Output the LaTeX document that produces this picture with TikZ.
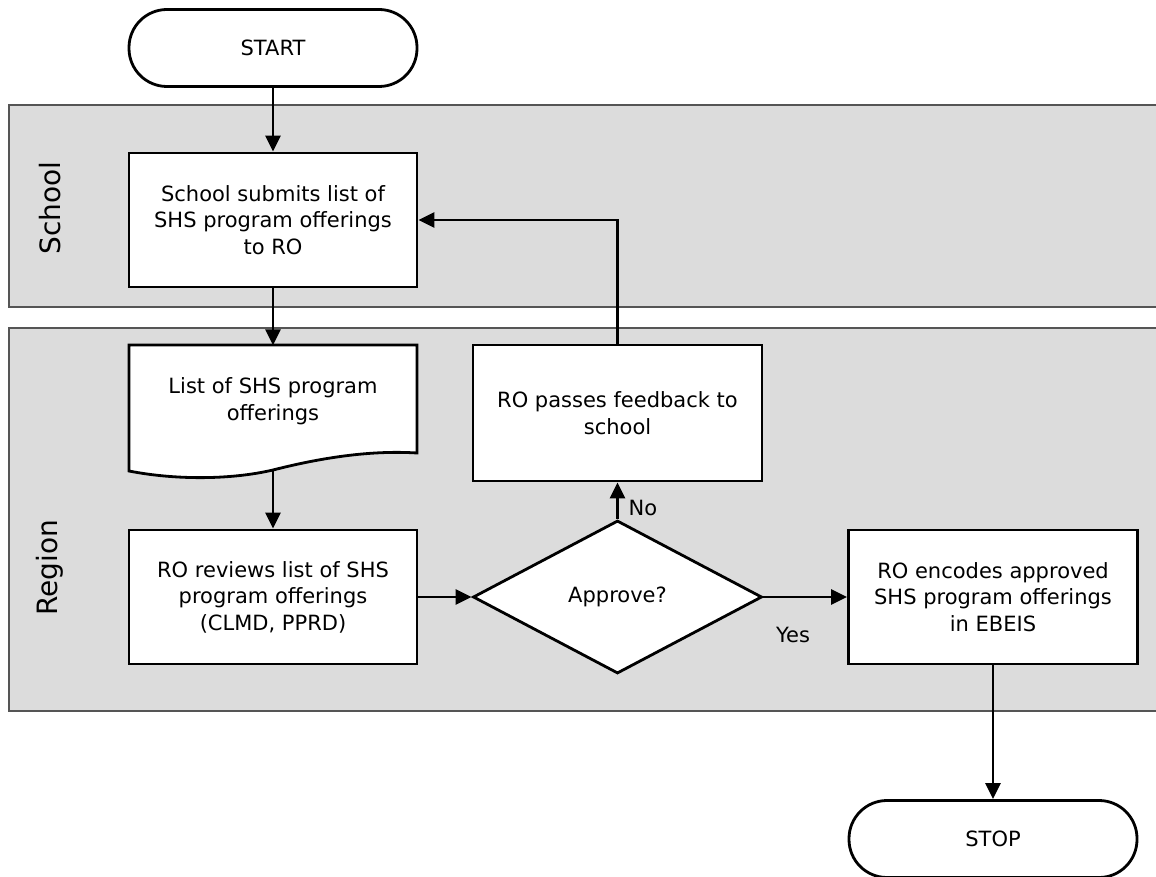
\documentclass[tikz,border=0pt]{standalone}
\usepackage{fontspec}
\setmainfont{DejaVu Sans}
\usetikzlibrary{arrows.meta,shapes.geometric}
\definecolor{lanefill}{HTML}{DCDCDC}
\definecolor{laneline}{HTML}{555555}
\begin{document}
\begin{tikzpicture}[x=1pt,y=-1pt,
  txt/.style={font=\fontsize{21}{26.5}\selectfont,align=center},
  box/.style={txt,draw=black,line width=2.8pt,fill=white,minimum width=288pt,minimum height=134pt,inner sep=0pt},
  term/.style={txt,draw=black,line width=2.8pt,fill=white,rounded corners=38pt,minimum width=288pt,minimum height=77pt,inner sep=0pt},
  dec/.style={txt,draw=black,line width=2.8pt,fill=white,diamond,minimum width=289pt,minimum height=153pt,inner sep=0pt},
  lane/.style={draw=laneline,line width=1.2pt,fill=lanefill},
  lanelbl/.style={rotate=90,font=\fontsize{28}{34}\selectfont},
  arr/.style={line width=2.8pt,-{Triangle[length=16pt,width=15pt]}},
  lbl/.style={txt}]
\useasboundingbox (0,0) rectangle (1156,877);
% lanes
\draw[lane] (9,105) rectangle (1170,307);
\draw[lane] (9,328) rectangle (1170,711);
\node[lanelbl] (lschool) at (50,208) {School};
\node[lanelbl] (lregion) at (50,568) {Region};
% nodes
\node[term] (start) at (273,48) {START};
\node[box] (school) at (273,220) {School submits list of\\SHS program offerings\\to RO};
% document shape
\draw[line width=2.8pt,fill=white] (129,345) -- (417,345) -- (417,453)
  .. controls (370,450) and (320,458) .. (273,470)
  .. controls (230,480) and (175,480) .. (129,471) -- cycle;
\node[minimum width=288pt,minimum height=125pt,inner sep=0pt] (doc) at (273,408) {};
\node[txt] (doctext) at (273,401) {List of SHS program\\offerings};
\node[box] (review) at (273,597) {RO reviews list of SHS\\program offerings\\(CLMD, PPRD)};
\node[dec] (approve) at (617.5,597) {Approve?};
\node[box,minimum width=289pt,minimum height=136pt] (feedback) at (617.5,413) {RO passes feedback to\\school};
\node[box,minimum width=289pt] (encode) at (993,597) {RO encodes approved\\SHS program offerings\\in EBEIS};
\node[term,minimum width=288pt] (stop) at (993,839) {STOP};
% connectors
\draw[arr] (start.south) -- (school.north);
\draw[arr] (school.south) -- (doc.north);
\draw[arr] (doc.south) -- (review.north);
\draw[arr] (review.east) -- (approve.west);
\draw[arr] (approve.north) -- (feedback.south);
\draw[arr] (feedback.north) |- (school.east);
\draw[arr] (approve.east) -- (encode.west);
\draw[arr] (encode.south) -- (stop.north);
\node[lbl] (no) at (643,508) {No};
\node[lbl] (yes) at (793,635) {Yes};
\end{tikzpicture}
\end{document}
